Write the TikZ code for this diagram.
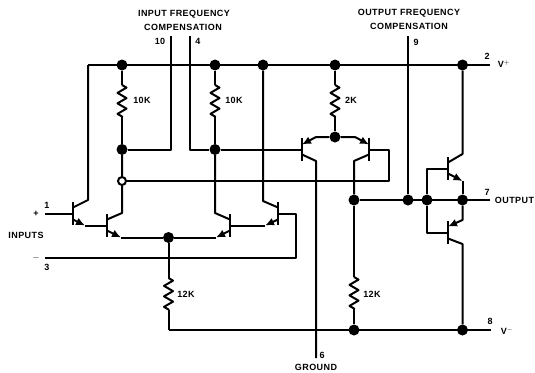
\documentclass[tikz,border=0pt]{standalone}
\usepackage{fontspec}
\setmainfont{Liberation Sans}[LetterSpace=5]
\usetikzlibrary{arrows.meta}
\usetikzlibrary{calc}
\usetikzlibrary{decorations.pathmorphing}

\tikzstyle{wire} = [line width=2pt, line join=round]
\tikzstyle{dot} = [circle, fill=black, inner sep=0pt, minimum size=11pt]
\tikzstyle{opendot} = [circle, fill=white, draw=black, line width=2pt, inner sep=0pt, minimum size=8pt]
\tikzstyle{res} = [wire, decorate, decoration={zigzag, amplitude=4.5pt, segment length=10.5pt}]
\tikzstyle{emit} = [wire, -{Latex[length=9pt,width=8pt]}]
\tikzstyle{lab} = [font=\bfseries\fontsize{9}{9}\selectfont, inner sep=0pt, text=black]
\newcommand{\Qbar}[3]{\coordinate (#1) at (#2,#3);
  \draw[wire, line width=2.3pt] ($(#1)+(0,-11.5)$) -- ($(#1)+(0,11.5)$);}

\begin{document}
\begin{tikzpicture}[x=1pt,y=-1pt]
\useasboundingbox (0,0) rectangle (535,372);

% Define junctions
\node[dot] (t1) at (122,65) {};
\node[dot] (t2) at (215,65) {};
\node[dot] (t3) at (263,65) {};
\node[dot] (t4) at (335,65) {};
\node[dot] (t5) at (462.5,65) {};
\node[dot] (m1) at (122,149.5) {};
\node[dot] (m2) at (215,149.5) {};
\node[opendot] (m3) at (122,181) {};
\node[dot] (d1) at (168.5,237.5) {};
\node[dot] (d2) at (335,137) {};
\node[dot] (o1) at (354,200) {};
\node[dot] (o2) at (408,200) {};
\node[dot] (o3) at (427,200) {};
\node[dot] (o4) at (462.5,200) {};
\node[dot] (b1) at (354,330) {};
\node[dot] (b2) at (462.5,330) {};

% Free ends
\coordinate (railL) at (88,65);
\coordinate (railR) at (490,65);
\coordinate (outR) at (490,200);
\coordinate (botL) at (168.5,330);
\coordinate (botR) at (491,330);
\coordinate (p10) at (171,36);
\coordinate (p4) at (190,36);
\coordinate (p9) at (408,36);
\coordinate (p6) at (316,358);
\coordinate (p1) at (45,213.5);
\coordinate (p3) at (45,257.5);

% Transistors
\Qbar{q1}{73}{213.5}
\Qbar{q2}{107}{225.5}
\Qbar{q3}{230}{225.5}
\Qbar{q4}{278}{213.5}
\Qbar{q5}{302}{149.5}
\Qbar{q6}{369}{149.5}
\Qbar{q7}{448}{168.5}
\Qbar{q8}{448}{232.5}

% Rails
\draw[wire] (railL) -- (railR);
\draw[wire] (botL) -- (botR);
\draw[wire] (o1) -- (outR);

% Resistors
\draw[wire] (t1) -- (122,85);
\draw[res] (122,85) -- (122,117);
\draw[wire] (122,117) -- (m1);
\draw[wire] (t2) -- (215,85);
\draw[res] (215,85) -- (215,117);
\draw[wire] (215,117) -- (m2);
\draw[wire] (t4) -- (335,85);
\draw[res] (335,85) -- (335,117);
\draw[wire] (335,117) -- (d2);
\draw[wire] (d1) -- (168.5,278);
\draw[res] (168.5,278) -- (168.5,310);
\draw[wire] (168.5,310) -- (botL);
\draw[wire] (o1) -- (354,277);
\draw[res] (354,277) -- (354,309);
\draw[wire] (354,309) -- (b1);

% Input stage
\draw[wire] (p1) -- (q1);
\draw[wire] (railL) -- (88,200) -- ($(q1)+(0,-6)$);
\draw[emit] ($(q1)+(0,6)$) -- (85,225.5);
\draw[wire] (85,225.5) -- (q2);
\draw[wire] (m1) -- (m3) -- (122,213) -- ($(q2)+(0,-6)$);
\draw[emit] ($(q2)+(0,5)$) -- (121,237.5);
\draw[wire] (121,237.5) -- (d1);
\draw[wire] (m2) -- (215,213) -- ($(q3)+(0,-6)$);
\draw[emit] ($(q3)+(0,5)$) -- (216,237.5);
\draw[wire] (216,237.5) -- (d1);
\draw[wire] (t3) -- (263,201) -- ($(q4)+(0,-6)$);
\draw[emit] ($(q4)+(0,6)$) -- (265,225.5);
\draw[wire] (265,225.5) -- (q3);
\draw[wire] (q4) -- (296,213.5) -- (296,257.5) -- (p3);

% Compensation pins
\draw[wire] (m1) -- (171,149.5) -- (p10);
\draw[wire] (p4) -- (190,149.5) -- (m2) -- (q5);
\draw[wire] (p9) -- (o2);

% Middle pair
\draw[emit] (d2) -- (316,137) -- ($(q5)+(0,-5)$);
\draw[emit] (d2) -- (355,137) -- ($(q6)+(0,-5)$);
\draw[wire] ($(q5)+(0,5)$) -- (316,161) -- (p6);
\draw[wire] ($(q6)+(0,5)$) -- (354,161) -- (o1);
\draw[wire] (q6) -- (389,149.5) -- (389,181) -- (m3);

% Output stage
\draw[wire] (t5) -- (462.5,154) -- ($(q7)+(0,-6)$);
\draw[emit] ($(q7)+(0,5)$) -- (462.5,181);
\draw[wire] (462.5,181) -- (o4);
\draw[wire] (q7) -- (427,168.5) -- (o3) -- (427,232.5) -- (q8);
\draw[emit] (o4) -- (462.5,220) -- ($(q8)+(0,-6)$);
\draw[wire] ($(q8)+(0,6)$) -- (462.5,244) -- (b2);

% Labels
\node[lab] (tin1) at (184,14) {INPUT FREQUENCY};
\node[lab] (tin2) at (183,27) {COMPENSATION};
\node[lab] (tout1) at (409,13) {OUTPUT FREQUENCY};
\node[lab] (tout2) at (409,26) {COMPENSATION};
\node[lab] (l10) at (160,41) {10};
\node[lab] (l4) at (198,41) {4};
\node[lab] (l9) at (416,42) {9};
\node[lab] (l2) at (487,56) {2};
\node[lab] (lvp) at (504,64) {V$^{+}$};
\node[lab] (l7) at (487,192) {7};
\node[lab] (lout) at (514.5,200) {OUTPUT};
\node[lab] (l8) at (490,321) {8};
\node[lab] (lvm) at (507,331) {V$^{-}$};
\node[lab] (l6) at (322,355) {6};
\node[lab] (lgnd) at (316,367) {GROUND};
\node[lab] (l1) at (47,205) {1};
\node[lab] (lplus) at (36,214) {+};
\node[lab] (linp) at (26,235) {INPUTS};
\node[lab] (lminus) at (36,258) {$-$};
\node[lab] (l3) at (47,267) {3};
\node[lab] (r1) at (142,100) {10K};
\node[lab] (r2) at (234,100) {10K};
\node[lab] (r3) at (351,100) {2K};
\node[lab] (r4) at (186,294) {12K};
\node[lab] (r5) at (372,294) {12K};

\end{tikzpicture}
\end{document}
